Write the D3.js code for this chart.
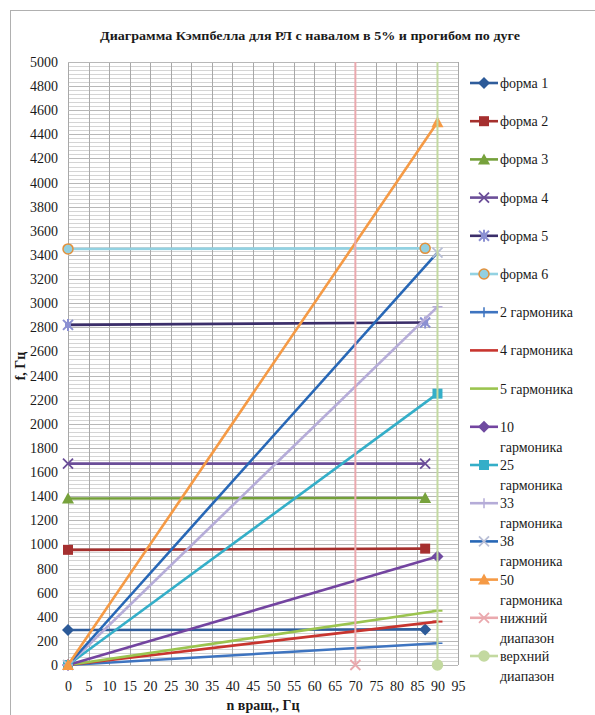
<!DOCTYPE html>
<html>
<head>
<meta charset="utf-8">
<script src="https://cdn.jsdelivr.net/npm/d3@7"></script>
<style>
body { margin: 0; background: #fff; }
svg text { font-family: "Liberation Serif", "Times New Roman", Tinos, "Noto Serif", "DejaVu Serif", serif; fill: #1a1a1a; }
</style>
</head>
<body>
<div class="campbell-graphic"></div>
<script>
// --- data ---
var formNames = ["форма 1", "форма 2", "форма 3", "форма 4", "форма 5", "форма 6"];
var formX = [0, 87];
var formValues = [[290, 295], [955, 965], [1380, 1385], [1670, 1670], [2820, 2840], [3450, 3455]];

var harmonicNames = [["2 гармоника"], ["4  гармоника"], ["5  гармоника"], ["10", "гармоника"],
  ["25", "гармоника"], ["33", "гармоника"], ["38", "гармоника"], ["50", "гармоника"]];
var harmonicX = [0, 90];
var harmonicValues = [[0, 180], [0, 360], [0, 450], [0, 900], [0, 2250], [0, 2970], [0, 3420], [0, 4500]];

var rangeNames = [["нижний", "диапазон"], ["верхний", "диапазон"]];
var rangeX = [70, 90];
var rangeY = [0, 5000];

var xTicks = [0, 5, 10, 15, 20, 25, 30, 35, 40, 45, 50, 55, 60, 65, 70, 75, 80, 85, 90, 95];
var yTicks = [0, 200, 400, 600, 800, 1000, 1200, 1400, 1600, 1800, 2000, 2200, 2400, 2600, 2800,
  3000, 3200, 3400, 3600, 3800, 4000, 4200, 4400, 4600, 4800, 5000];

// --- styles ---
var formStyles = [
  {color: "#2f5d9c", marker: "diamond", mfill: "#2c5a98"},
  {color: "#a5302d", marker: "square", mfill: "#a52f2f"},
  {color: "#74a03a", marker: "triangle", mfill: "#77a23c"},
  {color: "#6b4e98", marker: "x", mfill: "#6b4e98"},
  {color: "#3b2e6a", marker: "star", mfill: "#8b90d2"},
  {color: "#93d2e2", marker: "circle", mfill: "#93d0e0", mstroke: "#e2913c"}
];
var harmonicStyles = [
  {color: "#3e74c0", marker: "plus", mfill: "#3e74c0"},
  {color: "#c8352f", marker: "dash", mfill: "#c8352f"},
  {color: "#9bc44f", marker: "dash", mfill: "#9bc44f"},
  {color: "#7344a0", marker: "diamond", mfill: "#6f4aa0"},
  {color: "#34aec8", marker: "square", mfill: "#34aec8"},
  {color: "#b5acd8", marker: "plus", mfill: "#b5acd8"},
  {color: "#2767b6", marker: "x", mfill: "#b9bfd6"},
  {color: "#f59a45", marker: "triangle", mfill: "#f59a45"}
];
var rangeStyles = [
  {color: "#eaa9ae", marker: "x", mfill: "#eaa9ae", firstOnly: true},
  {color: "#c3d9a0", marker: "circle", mfill: "#c3d9a0", mstroke: "#c3d9a0", firstOnly: true}
];

var W = 595, H = 715;
var svg = d3.select(".campbell-graphic").append("svg")
  .attr("width", W).attr("height", H);

svg.append("rect").attr("width", W).attr("height", H).attr("fill", "#fff");
// outer chart frame
svg.append("rect").attr("x", 10.5).attr("y", 10.5).attr("width", 600).attr("height", 720)
  .attr("fill", "none").attr("stroke", "#b0b0b0").attr("stroke-width", 1);

var x = d3.scaleLinear().domain([0, 95]).range([68, 458]);
var y = d3.scaleLinear().domain([0, 5000]).range([665, 62]);

// minor horizontal grid
var minor = [];
for (var v = 0; v <= 5000; v += 200 / 6) minor.push(v);
svg.append("g").selectAll("line").data(minor).join("line")
  .attr("x1", x(0)).attr("x2", x(95))
  .attr("y1", function(d) { return Math.round(y(d)) + 0.5; })
  .attr("y2", function(d) { return Math.round(y(d)) + 0.5; })
  .attr("stroke", "#d4d4d4").attr("stroke-width", 1);

// major vertical grid
svg.append("g").selectAll("line").data(xTicks).join("line")
  .attr("x1", function(d) { return Math.round(x(d)) + 0.5; })
  .attr("x2", function(d) { return Math.round(x(d)) + 0.5; })
  .attr("y1", y(0)).attr("y2", y(5000))
  .attr("stroke", "#a8a8a8").attr("stroke-width", 1);

// major horizontal grid
svg.append("g").selectAll("line").data(yTicks).join("line")
  .attr("x1", x(0)).attr("x2", x(95))
  .attr("y1", function(d) { return Math.round(y(d)) + 0.5; })
  .attr("y2", function(d) { return Math.round(y(d)) + 0.5; })
  .attr("stroke", "#b8b8b8").attr("stroke-width", 1);

// axes (labels only)
var xAxis = svg.append("g").attr("transform", "translate(0," + (y(0) + 6) + ")")
  .call(d3.axisBottom(x).tickValues(xTicks).tickFormat(d3.format("d")).tickSize(0).tickPadding(10));
var yAxis = svg.append("g").attr("transform", "translate(" + (x(0) - 8) + ",0)")
  .call(d3.axisLeft(y).tickValues(yTicks).tickFormat(d3.format("d")).tickSize(0).tickPadding(2));
[xAxis, yAxis].forEach(function(a) {
  a.attr("font-family", null);
  a.select(".domain").remove();
  a.selectAll("text").attr("font-size", 14).attr("fill", "#1a1a1a");
});

// marker drawing
function marker(g, type, cx, cy, st) {
  var c = st.mfill, s = 5;
  if (type === "diamond") {
    g.append("path").attr("d", "M" + cx + "," + (cy - s - 1) + "L" + (cx + s + 1) + "," + cy + "L" + cx + "," + (cy + s + 1) + "L" + (cx - s - 1) + "," + cy + "Z").attr("fill", c);
  } else if (type === "square") {
    g.append("rect").attr("x", cx - s).attr("y", cy - s).attr("width", 2 * s).attr("height", 2 * s).attr("fill", c);
  } else if (type === "triangle") {
    g.append("path").attr("d", "M" + cx + "," + (cy - s - 1) + "L" + (cx + s + 1) + "," + (cy + s) + "L" + (cx - s - 1) + "," + (cy + s) + "Z").attr("fill", c);
  } else if (type === "x") {
    g.append("path").attr("d", "M" + (cx - s) + "," + (cy - s) + "L" + (cx + s) + "," + (cy + s) + "M" + (cx + s) + "," + (cy - s) + "L" + (cx - s) + "," + (cy + s))
      .attr("stroke", c).attr("stroke-width", 1.8).attr("fill", "none");
  } else if (type === "star") {
    g.append("rect").attr("x", cx - 3).attr("y", cy - 3).attr("width", 6).attr("height", 6).attr("fill", c);
    g.append("path").attr("d", "M" + (cx - s) + "," + (cy - s) + "L" + (cx + s) + "," + (cy + s) + "M" + (cx + s) + "," + (cy - s) + "L" + (cx - s) + "," + (cy + s) + "M" + cx + "," + (cy - s - 1) + "L" + cx + "," + (cy + s + 1))
      .attr("stroke", c).attr("stroke-width", 2).attr("fill", "none");
  } else if (type === "circle") {
    g.append("circle").attr("cx", cx).attr("cy", cy).attr("r", s).attr("fill", c)
      .attr("stroke", st.mstroke || c).attr("stroke-width", 1.5);
  } else if (type === "plus") {
    g.append("path").attr("d", "M" + (cx - s) + "," + cy + "L" + (cx + s) + "," + cy + "M" + cx + "," + (cy - s) + "L" + cx + "," + (cy + s))
      .attr("stroke", c).attr("stroke-width", 1.5).attr("fill", "none");
  } else if (type === "dash") {
    g.append("path").attr("d", "M" + (cx - s) + "," + cy + "L" + (cx + s) + "," + cy)
      .attr("stroke", c).attr("stroke-width", 2).attr("fill", "none");
  }
}

var line = d3.line().x(function(d) { return x(d[0]); }).y(function(d) { return y(d[1]); });
var plot = svg.append("g");

function series(xs, ys, st, w) {
  var pts = xs.map(function(xv, i) { return [xv, ys[i]]; });
  var g = plot.append("g");
  g.append("path").datum(pts).attr("d", line).attr("fill", "none")
    .attr("stroke", st.color).attr("stroke-width", w);
  (st.firstOnly ? pts.slice(0, 1) : pts).forEach(function(p) { marker(g, st.marker, x(p[0]), y(p[1]), st); });
}

formValues.forEach(function(v, i) { series(formX, v, formStyles[i], 2.6); });
harmonicValues.forEach(function(v, i) { series(harmonicX, v, harmonicStyles[i], 2.6); });
rangeX.forEach(function(xv, i) { series([xv, xv], rangeY, rangeStyles[i], 2); });

// titles
svg.append("text").attr("x", 310).attr("y", 40).attr("text-anchor", "middle")
  .attr("font-size", 13).attr("font-weight", "bold")
  .attr("textLength", 420).attr("lengthAdjust", "spacingAndGlyphs")
  .text("Диаграмма Кэмпбелла для РЛ с навалом в 5% и прогибом по дуге");
svg.append("text").attr("x", 263).attr("y", 710).attr("text-anchor", "middle")
  .attr("font-size", 14).attr("font-weight", "bold").text("n  вращ., Гц");
svg.append("text").attr("transform", "translate(25,366) rotate(-90)").attr("text-anchor", "middle")
  .attr("font-size", 14).attr("font-weight", "bold").text("f, Гц");

// legend
var legendLabels = formNames.map(function(n) { return [n]; }).concat(harmonicNames, rangeNames);
var legendStyles = formStyles.concat(harmonicStyles, rangeStyles);
var legend = svg.append("g");
legendLabels.forEach(function(lines, i) {
  var ly = 83 + 38.2 * i;
  var st = legendStyles[i];
  var g = legend.append("g");
  g.append("line").attr("x1", 470).attr("x2", 498).attr("y1", ly).attr("y2", ly)
    .attr("stroke", st.color).attr("stroke-width", 2.6);
  if (st.marker !== "dash") marker(g, st.marker, 484, ly, st);
  lines.forEach(function(t, j) {
    g.append("text").attr("x", 500).attr("y", ly + 5 + j * 20)
      .attr("font-size", 14).text(t);
  });
});
</script>
</body>
</html>
